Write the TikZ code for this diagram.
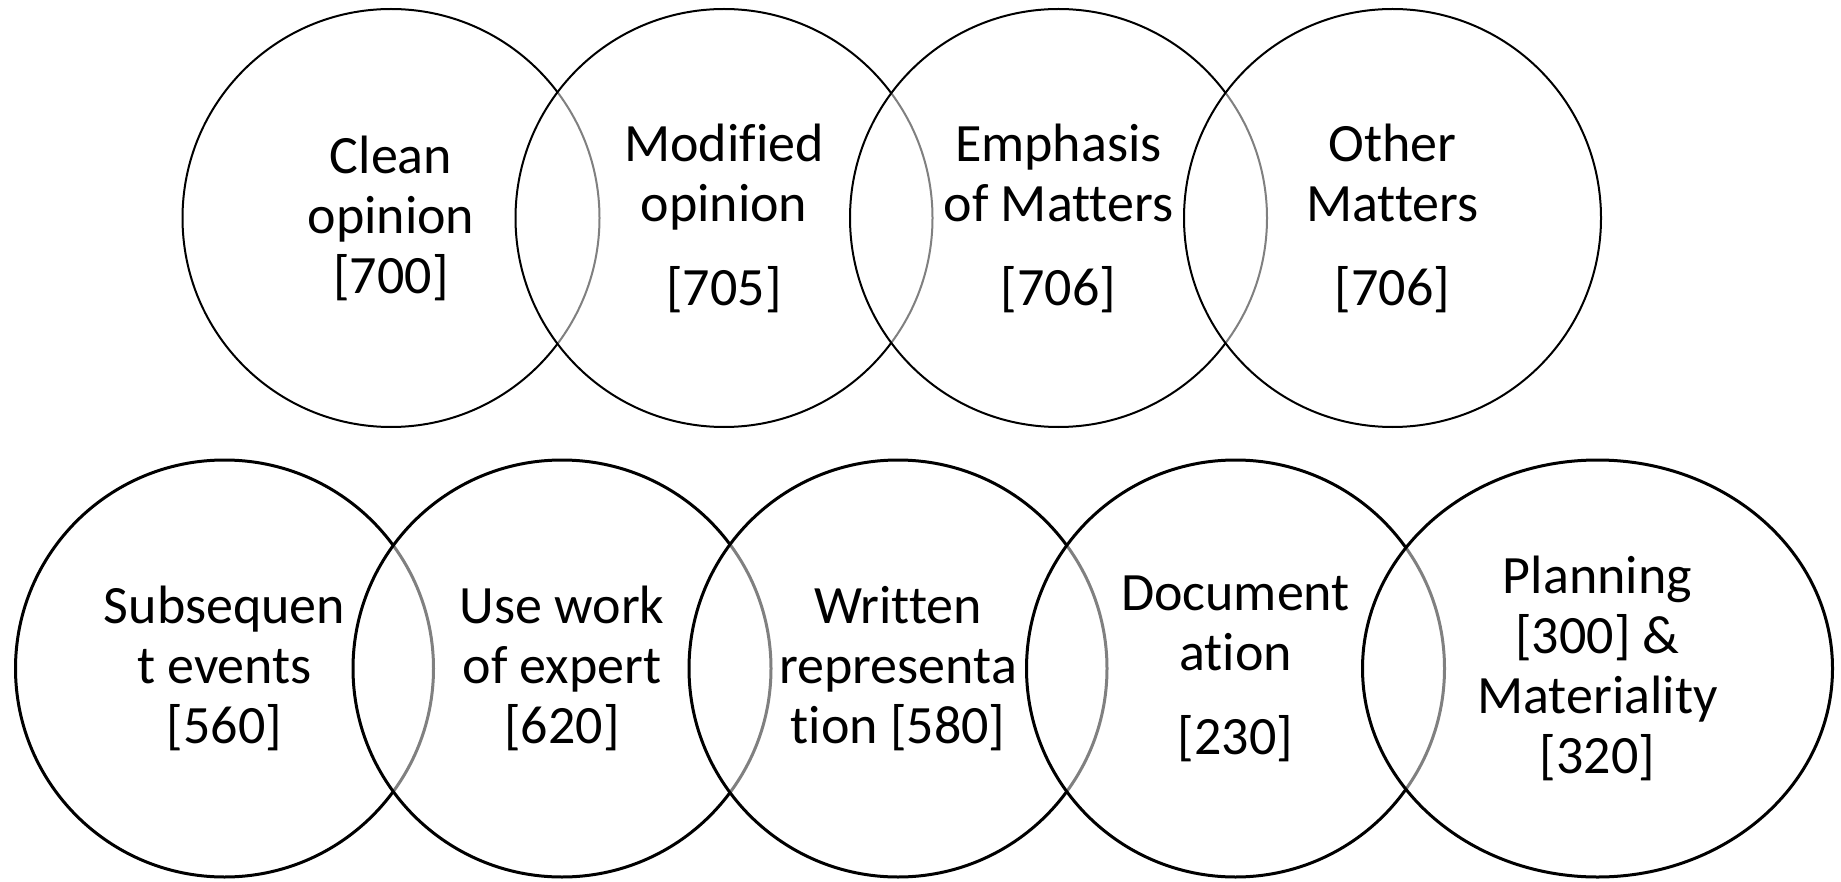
\documentclass[tikz,border=0pt]{standalone}
\usepackage{fontspec}
\setmainfont{Carlito}[Ligatures=NoCommon]
\usetikzlibrary{shapes.geometric}
\begin{document}
\begin{tikzpicture}[x=0.5pt,y=-0.5pt,
  bubble/.style={ellipse, draw=black, fill=white, fill opacity=0.5, text opacity=1,
    inner sep=0pt, outer sep=0pt, align=center,
    font=\fontsize{27pt}{30pt}\selectfont},
  toprow/.style={bubble, line width=1pt, minimum width=208.5pt, minimum height=209pt},
  botrow/.style={bubble, line width=1.5pt, minimum width=209pt, minimum height=208.5pt},
  wide/.style={botrow, minimum width=235pt}]
\useasboundingbox (0,0) rectangle (1841,882);
\fill[white] (0,0) rectangle (1841,882);
% top row
\node[toprow] (clean) at (391,218) {Clean\\opinion\\{[}700{]}};
\node[toprow] (modified) at (724,218) {Modified\\opinion\\[12pt]{[}705{]}};
\node[toprow] (emphasis) at (1058.5,218) {Emphasis\\of Matters\\[12pt]{[}706{]}};
\node[toprow] (other) at (1392.5,218) {Other\\Matters\\[12pt]{[}706{]}};
% bottom row
\node[botrow] (subsequent) at (224.5,668.5) {Subsequen\\t events\\{[}560{]}};
\node[botrow] (expert) at (562,668.5) {Use work\\of expert\\{[}620{]}};
\node[botrow] (written) at (898,668.5) {Written\\representa\\tion {[}580{]}};
\node[botrow] (documentation) at (1235.5,668.5) {Document\\ation\\[12pt]{[}230{]}};
\node[wide] (planning) at (1597.5,668.5) {Planning\\{[}300{]} \&\\Materiality\\{[}320{]}};
\end{tikzpicture}
\end{document}
